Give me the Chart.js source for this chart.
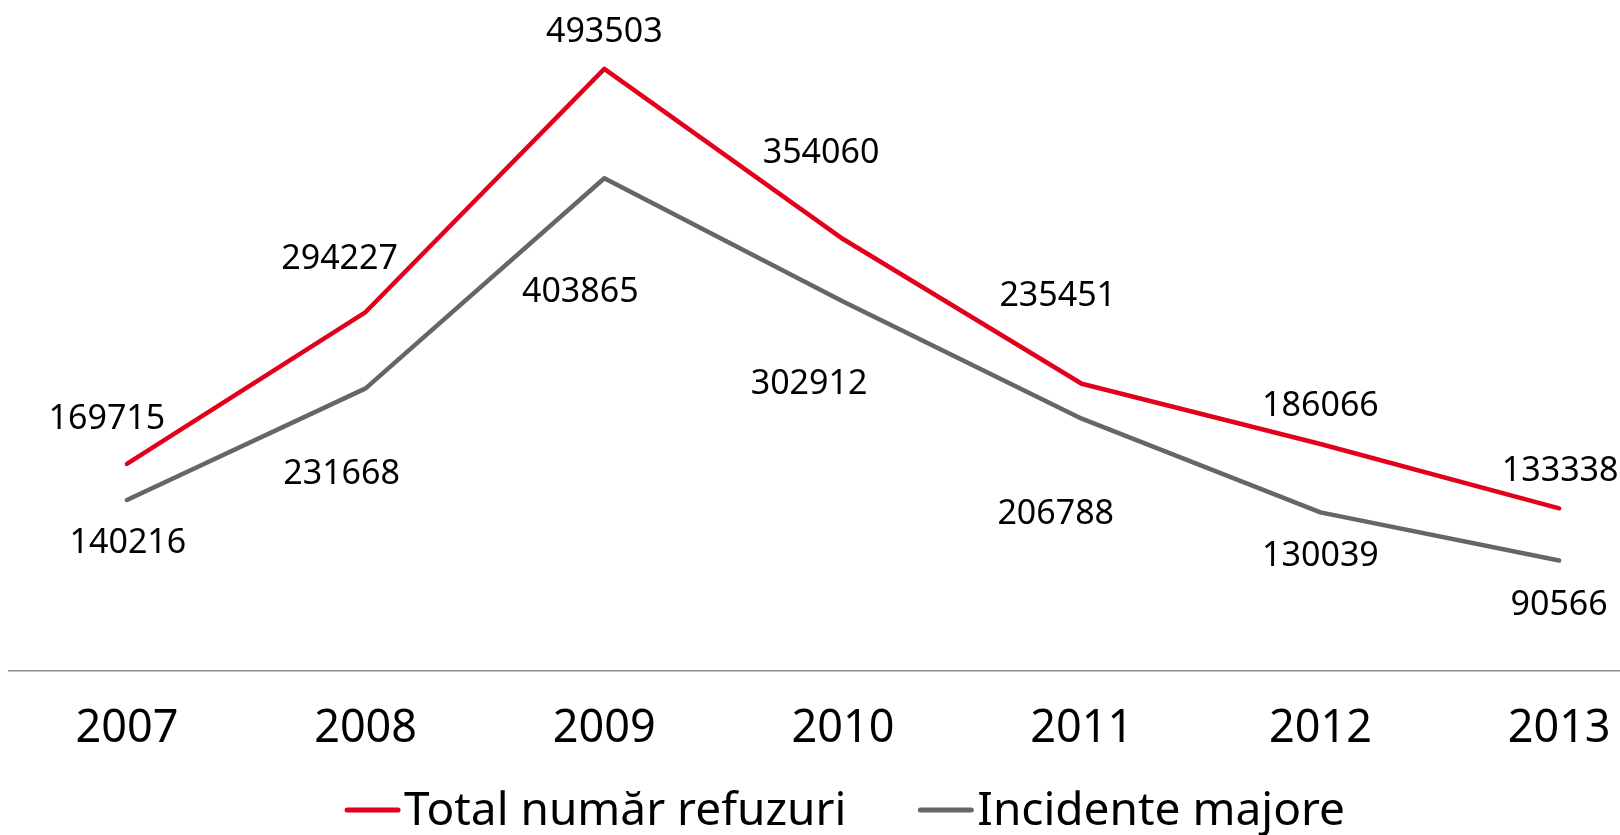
<!DOCTYPE html>
<html>
<head>
<meta charset="utf-8">
<script src="https://cdn.jsdelivr.net/npm/chart.js@4.4.1/dist/chart.umd.min.js"></script>
<style>
  html, body { margin: 0; padding: 0; background: #fff; }
  #chart { display: block; }
</style>
</head>
<body>
<canvas id="chart" width="1620" height="835"></canvas>
<script>
const years = [2007, 2008, 2009, 2010, 2011, 2012, 2013];
const totalRefuzuri = [169715, 294227, 493503, 354060, 235451, 186066, 133338];
const incidenteMajore = [140216, 231668, 403865, 302912, 206788, 130039, 90566];
const seriesNames = ['Total număr refuzuri', 'Incidente majore'];
const seriesColors = ['#e3001b', '#666666'];

const FONT = "'Noto Sans', 'DejaVu Sans', sans-serif";

// where each value label sits relative to its point (dx, dy in px)
const labelOffsets = [
  [[-20, -47], [-26, -55], [0, -39], [-22, -88], [-24, -90], [0, -40], [1, -39]],
  [[1, 41], [-24, 84], [-24, 112], [-34, 81], [-26, 93], [0, 42], [0, 42]]
];

const pointLabels = {
  id: 'pointLabels',
  afterDatasetsDraw(chart) {
    const ctx = chart.ctx;
    ctx.save();
    ctx.font = '34px ' + FONT;
    ctx.fillStyle = '#000';
    ctx.textAlign = 'center';
    ctx.textBaseline = 'alphabetic';
    chart.data.datasets.forEach((ds, i) => {
      chart.getDatasetMeta(i).data.forEach((pt, j) => {
        const [dx, dy] = labelOffsets[i][j];
        ctx.fillText(String(ds.data[j].y), pt.x + dx, pt.y + dy + 12);
      });
    });
    ctx.restore();
  }
};

// legend with a short line marker close to the text
const lineLegend = {
  id: 'lineLegend',
  afterDraw(chart) {
    const ctx = chart.ctx;
    const seg = 51, gapText = 6, gapItem = 74;
    const yLine = 810, yText = 825;
    ctx.save();
    ctx.font = '46px ' + FONT;
    const widths = chart.data.datasets.map(ds => ctx.measureText(ds.label).width);
    const total = widths.reduce((a, w) => a + seg + gapText + w, 0) + gapItem * (widths.length - 1);
    let x = chart.scales.x.getPixelForValue(years[3]) + 3 - total / 2;
    chart.data.datasets.forEach((ds, i) => {
      ctx.strokeStyle = ds.borderColor;
      ctx.lineWidth = 5;
      ctx.lineCap = 'round';
      ctx.beginPath();
      ctx.moveTo(x, yLine);
      ctx.lineTo(x + seg, yLine);
      ctx.stroke();
      ctx.fillStyle = '#000';
      ctx.textBaseline = 'alphabetic';
      ctx.textAlign = 'left';
      ctx.fillText(ds.label, x + seg + gapText, yText);
      x += seg + gapText + widths[i] + gapItem;
    });
    ctx.restore();
  }
};

const ctx = document.getElementById('chart').getContext('2d');
new Chart(ctx, {
  type: 'line',
  data: {
    datasets: [
      {
        label: seriesNames[0],
        data: years.map((y, i) => ({ x: y, y: totalRefuzuri[i] })),
        borderColor: seriesColors[0],
        borderWidth: 4.5,
      },
      {
        label: seriesNames[1],
        data: years.map((y, i) => ({ x: y, y: incidenteMajore[i] })),
        borderColor: seriesColors[1],
        borderWidth: 4.5,
      }
    ]
  },
  options: {
    responsive: false,
    animation: false,
    layout: { padding: { left: 9, right: 0, top: 0, bottom: 0 } },
    elements: {
      point: { radius: 0, hoverRadius: 0 },
      line: { tension: 0, borderCapStyle: 'round', borderJoinStyle: 'round', fill: false }
    },
    scales: {
      x: {
        type: 'linear',
        min: 2006.506,
        max: 2013.255,
        afterBuildTicks: s => { s.ticks = years.map(v => ({ value: v })); },
        afterFit: s => {
          s.height = 164;
          s.paddingLeft = 0;
          s.paddingRight = 0;
        },
        grid: { display: false, drawTicks: false },
        border: { display: true, color: '#8c8c8c', width: 1.5 },
        ticks: {
          padding: 31,
          color: '#000',
          autoSkip: false,
          maxRotation: 0,
          font: { family: FONT, size: 45 },
          callback: v => String(v)
        }
      },
      y: {
        display: false,
        min: 0,
        max: 550000
      }
    },
    plugins: {
      legend: { display: false },
      tooltip: { enabled: false }
    }
  },
  plugins: [pointLabels, lineLegend]
});
</script>
</body>
</html>
